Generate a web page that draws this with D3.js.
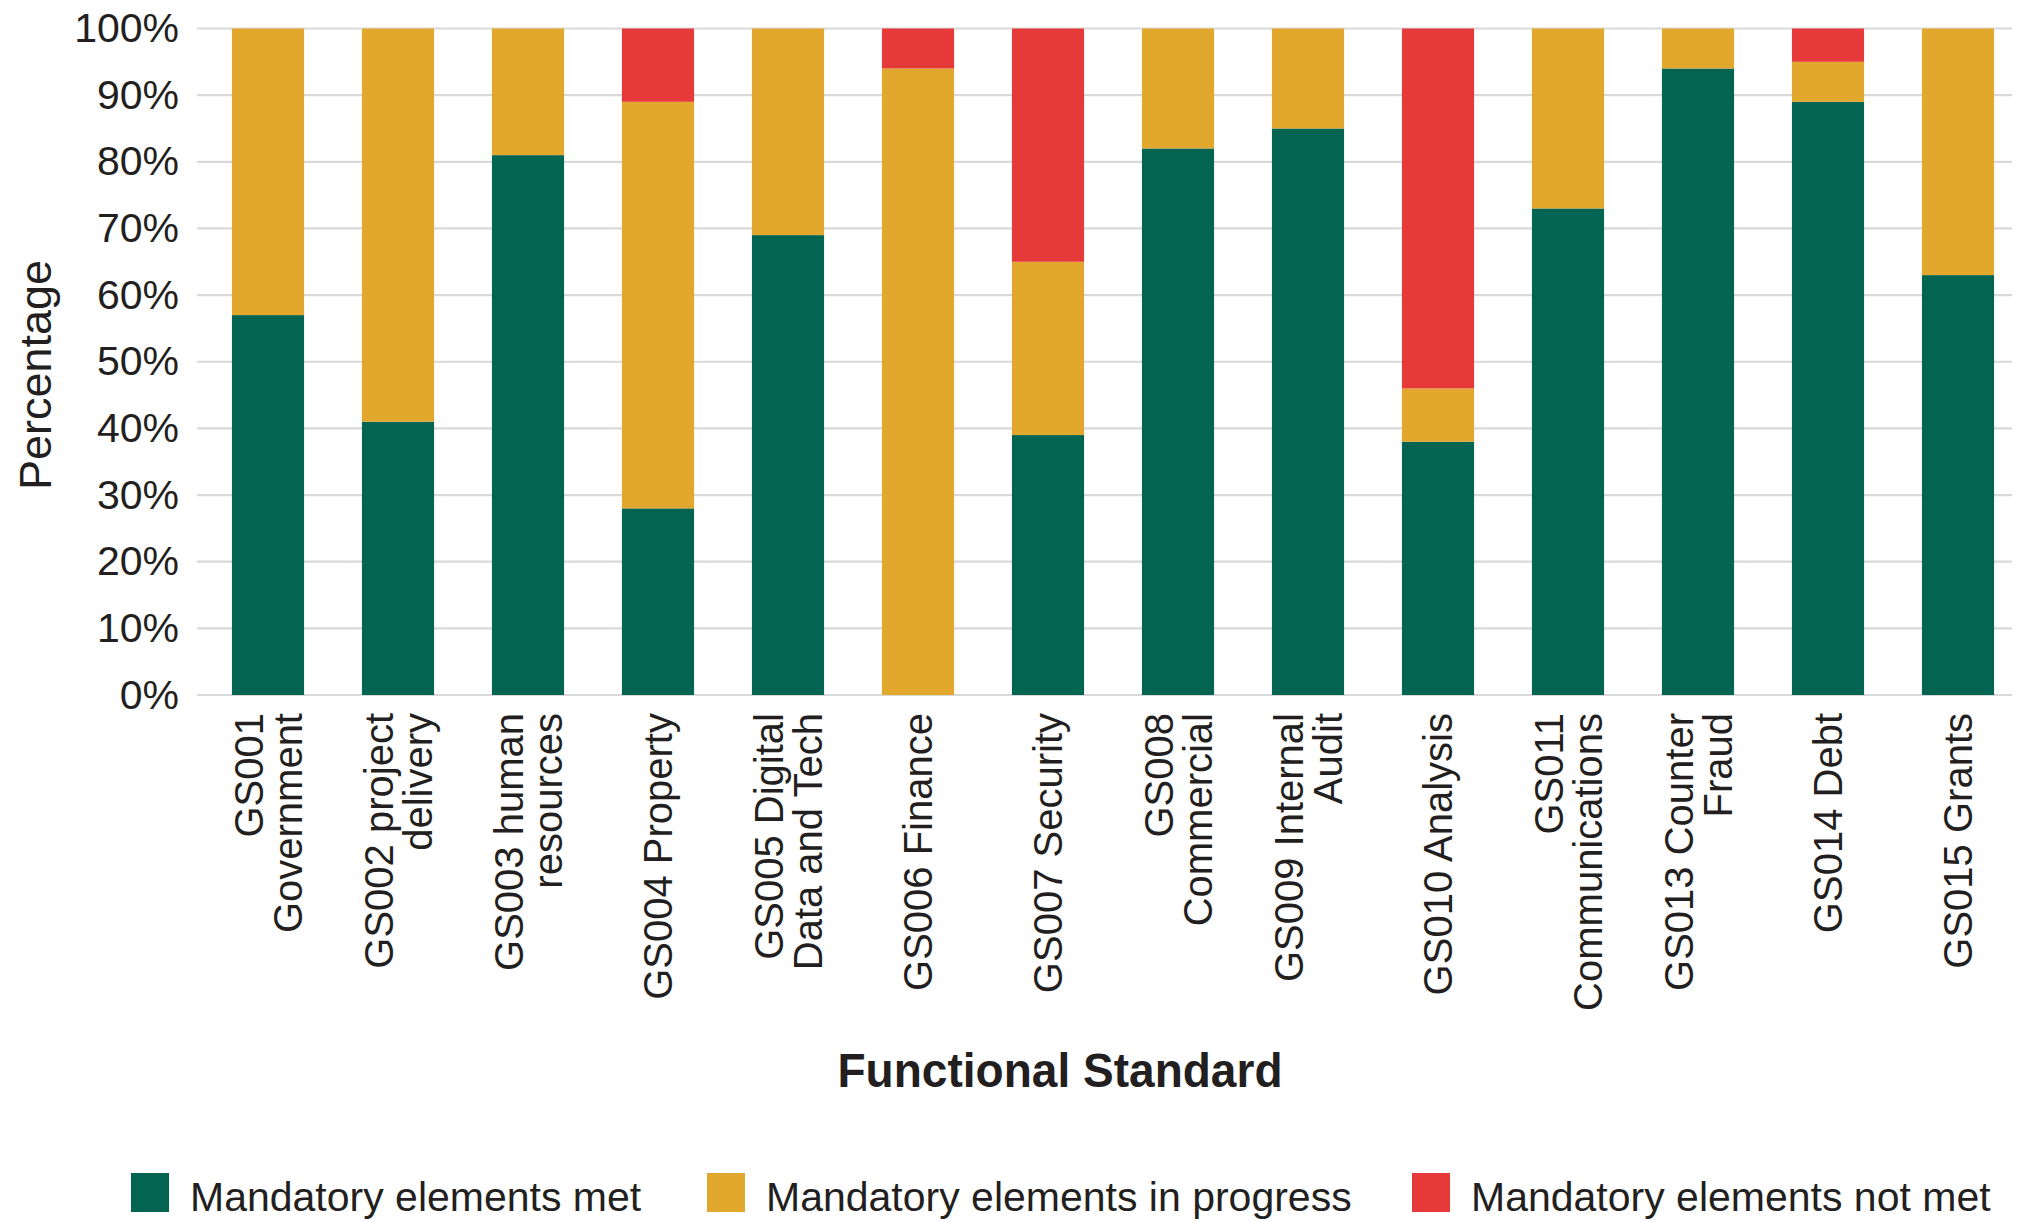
<!DOCTYPE html>
<html>
<head>
<meta charset="utf-8">
<script src="https://cdnjs.cloudflare.com/ajax/libs/d3/7.8.5/d3.min.js"></script>
<style>
  body { margin: 0; background: #fff; }
  svg { display: block; font-family: "Liberation Sans", Arial, sans-serif; }
</style>
</head>
<body>
<svg id="chart" width="2022" height="1222"></svg>
<script>
// categories, each label split into its wrapped lines
var categories = ['GS001', 'GS002', 'GS003', 'GS004', 'GS005', 'GS006', 'GS007',
  'GS008', 'GS009', 'GS010', 'GS011', 'GS013', 'GS014', 'GS015'];
var categoryLabels = [
  ['GS001', 'Government'], ['GS002 project', 'delivery'], ['GS003 human', 'resources'],
  ['GS004 Property'], ['GS005 Digital', 'Data and Tech'], ['GS006 Finance'],
  ['GS007 Security'], ['GS008', 'Commercial'], ['GS009 Internal', 'Audit'],
  ['GS010 Analysis'], ['GS011', 'Communications'], ['GS013 Counter', 'Fraud'],
  ['GS014 Debt'], ['GS015 Grants']
];
var seriesNames = ['Mandatory elements met', 'Mandatory elements in progress', 'Mandatory elements not met'];
var met        = [57, 41, 81, 28, 69, 0, 39, 82, 85, 38, 73, 94, 89, 63];
var inProgress = [43, 59, 19, 61, 31, 94, 26, 18, 15, 8, 27, 6, 6, 37];
var notMet     = [0, 0, 0, 11, 0, 6, 35, 0, 0, 54, 0, 0, 5, 0];
var yTicks = [0, 10, 20, 30, 40, 50, 60, 70, 80, 90, 100];
var colors = ['#036451', '#E2A82D', '#E5393A'];

var svg = d3.select('#chart');
var plotTop = 28.5, plotBottom = 695, gridLeft = 197, gridRight = 2012;

var rows = categories.map(function (c, i) {
  return { cat: c, s0: met[i], s1: inProgress[i], s2: notMet[i] };
});
var stack = d3.stack().keys(['s0', 's1', 's2'])(rows);

var x = d3.scaleBand().domain(categories).range([203, 2023]).paddingInner(0.445).paddingOuter(0.2225);
var y = d3.scaleLinear().domain([0, 100]).range([plotBottom, plotTop]);

// gridlines
svg.append('g').selectAll('line').data(yTicks).enter().append('line')
  .attr('x1', gridLeft).attr('x2', gridRight)
  .attr('y1', function (d) { return y(d); }).attr('y2', function (d) { return y(d); })
  .attr('stroke', '#d9d9d9').attr('stroke-width', 2.2);

// y axis labels
var yAxis = svg.append('g').attr('transform', 'translate(179,0)')
  .call(d3.axisLeft(y).tickValues(yTicks).tickSize(0).tickPadding(0)
    .tickFormat(function (d) { return d + '%'; }));
yAxis.select('.domain').remove();
yAxis.selectAll('text').attr('font-size', 41).attr('fill', '#231f20')
  .attr('font-family', '"Liberation Sans", Arial, sans-serif');

// stacked bars
svg.append('g').selectAll('g').data(stack).enter().append('g')
  .attr('fill', function (d, i) { return colors[i]; })
  .selectAll('rect').data(function (d) { return d; }).enter().append('rect')
  .attr('x', function (d) { return x(d.data.cat); })
  .attr('width', x.bandwidth())
  .attr('y', function (d) { return y(d[1]); })
  .attr('height', function (d) { return y(d[0]) - y(d[1]); });

// category labels, rotated
var lineH = 39;
var labels = svg.append('g').selectAll('text').data(categories).enter().append('text')
  .attr('transform', function (d) {
    return 'translate(' + (x(d) + x.bandwidth() / 2) + ',713) rotate(-90)';
  })
  .attr('text-anchor', 'end').attr('font-size', 40).attr('fill', '#231f20');
labels.each(function (d, i) {
  var lines = categoryLabels[i];
  var t = d3.select(this);
  lines.forEach(function (ln, j) {
    var off = (j - (lines.length - 1) / 2) * lineH + 14;
    t.append('tspan').attr('x', 0).attr('y', off).text(ln);
  });
});

// axis titles
svg.append('text').attr('transform', 'translate(51,375) rotate(-90)')
  .attr('text-anchor', 'middle').attr('font-size', 45).attr('fill', '#231f20')
  .text('Percentage');
svg.append('text').attr('x', 1060).attr('y', 1087)
  .attr('text-anchor', 'middle').attr('font-size', 48).attr('font-weight', 'bold')
  .attr('fill', '#231f20').attr('textLength', 445).attr('lengthAdjust', 'spacingAndGlyphs')
  .text('Functional Standard');

// legend
var legendX = [131, 707, 1412];
var legend = svg.append('g').selectAll('g').data(seriesNames).enter().append('g')
  .attr('transform', function (d, i) { return 'translate(' + legendX[i] + ',1173)'; });
legend.append('rect').attr('width', 38).attr('height', 39)
  .attr('fill', function (d, i) { return colors[i]; });
legend.append('text').attr('x', 59).attr('y', 38).attr('font-size', 41).attr('fill', '#231f20')
  .text(function (d) { return d; });
</script>
</body>
</html>
